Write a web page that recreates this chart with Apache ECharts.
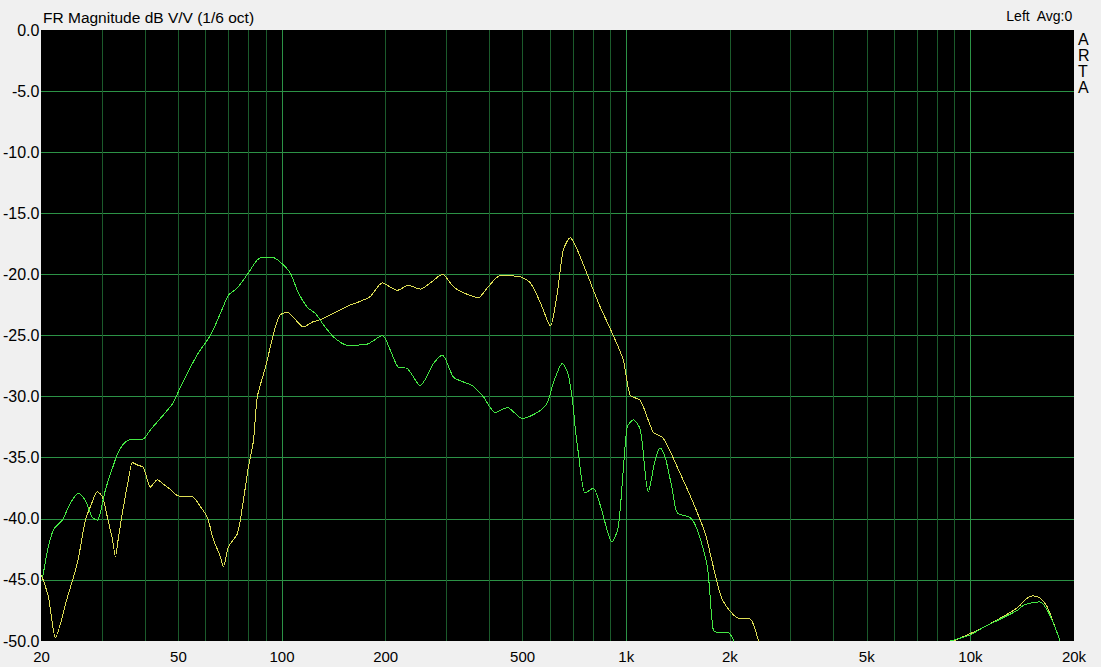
<!DOCTYPE html>
<html>
<head>
<meta charset="utf-8">
<script src="https://cdn.jsdelivr.net/npm/echarts@6/dist/echarts.min.js"></script>
<style>
html,body{margin:0;padding:0;background:#f0f0f0;}
#chart{width:1101px;height:667px;}
#chart svg path{shape-rendering:crispEdges;}
</style>
</head>
<body>
<div id="chart"></div>
<script>
// ---- Data (frequency in Hz, magnitude in dB) ----
const greenLowFreq = [20, 20.2, 20.82, 21.67, 23.0, 24.3, 25.6, 26.84, 28.1, 29.1, 29.7, 30.7, 32.2, 33.5, 35.1, 36.8, 39.3, 41.5, 45.2, 48.3, 50.7, 54.2, 57.2, 61.9, 66.2, 69.9, 74.2, 79.3, 84.8, 88.3, 93.7, 98.9, 105.7, 111.5, 118.5, 125, 131.8, 140.9, 154.8, 177, 195.6, 206.3, 217.7, 231.2, 252.2, 275.1, 292.2, 314.6, 336.4, 357.2, 384.2, 416.5, 451.4, 499, 551.4, 590, 613.8, 652, 678.8, 702, 711, 726, 760, 802, 840.7, 910, 948, 980.6, 1007, 1048, 1099, 1159, 1214, 1256, 1299, 1361, 1407, 1535, 1608, 1720, 1790, 1851, 1978, 2046, 2074];
const greenLowDb = [-44.8, -44.6, -42.6, -40.9, -40.1, -38.7, -37.9, -38.5, -39.9, -40.1, -39.4, -37.6, -35.8, -34.5, -33.7, -33.5, -33.5, -32.7, -31.5, -30.5, -29.2, -27.6, -26.4, -25.0, -23.2, -21.7, -21.1, -20.0, -18.8, -18.6, -18.6, -19.0, -19.9, -21.5, -22.7, -23.2, -24.1, -25.1, -25.8, -25.7, -25.0, -26.2, -27.6, -27.7, -29.1, -27.3, -26.6, -28.4, -28.8, -29.1, -30.0, -31.3, -30.9, -31.8, -31.3, -30.5, -28.9, -27.3, -28.2, -30.9, -32.6, -34.6, -37.9, -37.5, -38.9, -41.9, -40.7, -36.0, -32.5, -31.9, -32.7, -37.8, -35.2, -34.2, -35.0, -37.6, -39.5, -39.9, -40.9, -43.9, -49.1, -49.3, -49.3, -49.9, -50.5];
const greenHighFreq = [8730, 9980, 10890, 12440, 13670, 14230, 14910, 15940, 16820, 17630, 18220];
const greenHighDb = [-50.0, -49.5, -48.9, -48.1, -47.5, -47.1, -46.9, -46.8, -47.6, -48.9, -50.0];

const yellowLowFreq = [20, 20.96, 21.96, 23.8, 25.44, 26.84, 27.75, 29.09, 30.08, 31.1, 32.16, 32.81, 33.48, 34.62, 35.79, 36.76, 38.02, 39.57, 41.47, 43.45, 44.93, 47.39, 49.66, 52.39, 54.9, 57.93, 60.7, 63.18, 66.2, 67.56, 69.86, 74.2, 77.2, 79.8, 82.6, 84.8, 89.5, 95.6, 98.9, 103.7, 109.3, 115.4, 122.5, 129.2, 138.2, 147.7, 158, 168.9, 180.6, 195.6, 216.3, 232.8, 252.2, 269.6, 292.2, 314.6, 336.4, 371.8, 394.8, 430.8, 492.3, 526.6, 562.9, 601.8, 630.7, 656.4, 687.8, 721, 770.7, 829.6, 917, 980.6, 1027.6, 1098.8, 1198, 1281, 1435, 1566, 1697, 1790, 1901, 2102, 2293, 2418, 2440];
const yellowLowDb = [-44.6, -46.4, -49.7, -46.4, -43.6, -40.1, -39.0, -37.8, -38.2, -39.9, -41.7, -43.1, -41.5, -39.0, -36.8, -35.4, -35.6, -35.8, -37.4, -36.8, -37.1, -37.6, -38.1, -38.2, -38.2, -39.0, -39.9, -41.7, -43.1, -43.9, -42.3, -41.2, -38.5, -35.8, -33.6, -30.0, -27.6, -24.3, -23.3, -23.1, -23.7, -24.3, -23.9, -23.7, -23.3, -22.9, -22.5, -22.2, -21.8, -20.7, -21.3, -20.9, -21.2, -20.7, -20.0, -21.0, -21.5, -21.9, -21.1, -20.1, -20.2, -20.7, -22.3, -24.2, -21.5, -18.0, -17.0, -18.0, -20.0, -22.3, -25.0, -27.0, -29.9, -30.3, -32.9, -33.4, -36.3, -38.7, -41.2, -43.9, -46.6, -48.1, -48.2, -49.9, -50.5];
const yellowHighFreq = [8912, 9980, 10890, 12440, 13670, 14620, 15210, 15940, 16710, 17630, 18220];
const yellowHighDb = [-50.0, -49.4, -48.9, -48.0, -47.3, -46.5, -46.3, -46.5, -47.2, -48.9, -50.0];

const xLabelValues = [20, 50, 100, 200, 500, 1000, 2000, 5000, 10000, 20000];
const xGridValues = [20, 30, 40, 50, 60, 70, 80, 90, 100, 200, 300, 400, 500, 600, 700, 800, 900, 1000, 2000, 3000, 4000, 5000, 6000, 7000, 8000, 9000, 10000, 20000];

function pairs(f, d) { return f.map((v, i) => [v, d[i]]); }
const greenData = pairs(greenLowFreq, greenLowDb).concat([[4000, null]], pairs(greenHighFreq, greenHighDb));
const yellowData = pairs(yellowLowFreq, yellowLowDb).concat([[4000, null]], pairs(yellowHighFreq, yellowHighDb));

const FONT = '"Liberation Sans", Arial, sans-serif';
const MINOR = '#1b5a2b', MAJOR = '#2c9246';
const chart = echarts.init(document.getElementById('chart'), null, {renderer: 'svg'});

chart.setOption({
  backgroundColor: '#f0f0f0',
  animation: false,
  grid: {left: 41, top: 30, right: 27, bottom: 26, show: true, backgroundColor: '#000000', borderWidth: 0},
  title: {
    text: 'FR Magnitude dB V/V (1/6 oct)',
    left: 38, top: 4,
    textStyle: {fontFamily: FONT, fontSize: 15.5, fontWeight: 'normal', color: '#000'}
  },
  graphic: [
    {type: 'text', right: 28, top: 9, style: {text: 'Left  Avg:0', font: '14px ' + FONT, fill: '#000'}},
    {type: 'text', left: 1078, top: 31, style: {text: 'A\nR\nT\nA', font: '16px ' + FONT, fill: '#000', lineHeight: 16, align: 'left'}}
  ],
  xAxis: {
    type: 'log', logBase: 10, min: 20, max: 20000,
    axisLine: {show: false},
    axisTick: {show: false, customValues: xGridValues},
    splitLine: {
      show: true, showMinLine: false, showMaxLine: false,
      lineStyle: {width: 1, color: [MINOR, MINOR, MINOR, MINOR, MINOR, MINOR, MINOR, MAJOR, MINOR]}
    },
    minorSplitLine: {show: false},
    axisLabel: {
      customValues: xLabelValues,
      margin: 8,
      fontFamily: FONT, fontSize: 15, color: '#000',
      showMinLabel: true, showMaxLabel: true,
      formatter: v => v >= 1000 ? (v / 1000) + 'k' : String(v)
    }
  },
  yAxis: {
    type: 'value', min: -50, max: 0, interval: 5,
    axisLine: {show: false}, axisTick: {show: false},
    splitLine: {show: true, showMinLine: false, showMaxLine: false, lineStyle: {color: MAJOR, width: 1}},
    axisLabel: {margin: 2, fontFamily: FONT, fontSize: 16, color: '#000', formatter: v => v.toFixed(1)}
  },
  series: [
    {
      type: 'line', name: 'yellow', data: yellowData, showSymbol: false, smooth: 0.25,
      connectNulls: false, z: 3, lineStyle: {color: '#dede55', width: 1}
    },
    {
      type: 'line', name: 'green', data: greenData, showSymbol: false, smooth: 0.25,
      connectNulls: false, z: 4, lineStyle: {color: '#44e844', width: 1}
    }
  ]
});
</script>
</body>
</html>
